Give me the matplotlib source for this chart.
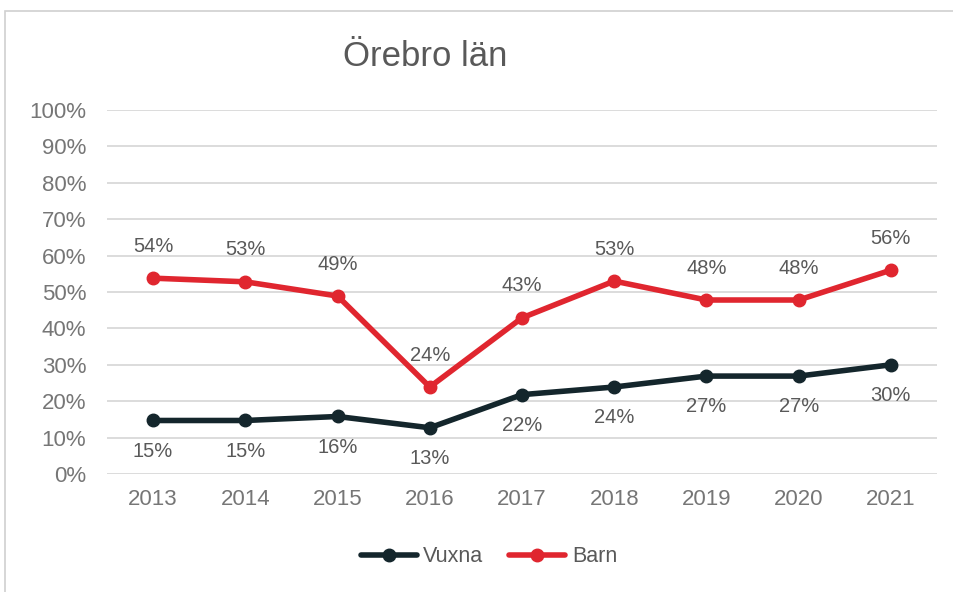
import matplotlib
matplotlib.use("Agg")
import matplotlib.pyplot as plt
from matplotlib.patches import Rectangle

years = ["2013", "2014", "2015", "2016", "2017", "2018", "2019", "2020", "2021"]
vuxna = [14.7, 14.7, 15.8, 12.7, 21.8, 23.9, 26.9, 26.9, 30.0]
barn = [53.8, 52.8, 48.9, 23.9, 42.9, 53.0, 47.8, 47.8, 56.0]
yticks = [0, 10, 20, 30, 40, 50, 60, 70, 80, 90, 100]

plt.rcParams['font.family'] = ['Liberation Sans', 'DejaVu Sans']

RED = "#E0262F"
DARK = "#14262C"
TXT = "#595959"

fig = plt.figure(figsize=(9.54, 5.92), dpi=100)
W, H = 954, 592
ax = fig.add_axes([107 / W, 1 - 474 / H, (937 - 107) / W, (474 - 110) / H])

x = list(range(len(years)))
ax.plot(x, vuxna, color=DARK, lw=4, marker='o', ms=9, label="Vuxna", zorder=3,
        solid_capstyle='round')
ax.plot(x, barn, color=RED, lw=4, marker='o', ms=9, label="Barn", zorder=3,
        solid_capstyle='round')

for xi, v in zip(x, vuxna):
    ax.annotate(f"{round(v)}%", (xi, v), xytext=(0, -22), textcoords='offset points',
                ha='center', va='center', fontsize=14.5, color=TXT)
for xi, v in zip(x, barn):
    ax.annotate(f"{round(v)}%", (xi, v), xytext=(0, 23), textcoords='offset points',
                ha='center', va='center', fontsize=14.5, color=TXT)

ax.set_xlim(-0.5, len(years) - 0.5)
ax.set_ylim(0, 100)
ax.set_yticks(yticks)
ax.set_yticklabels([f"{t}%" for t in yticks])
ax.set_xticks(x)
ax.set_xticklabels(years)
ax.grid(axis='y', color='#D9D9D9', lw=1.3)
ax.set_axisbelow(True)
for s in ax.spines.values():
    s.set_visible(False)
ax.tick_params(axis='both', length=0, labelsize=16, labelcolor='#767676')
ax.tick_params(axis='x', pad=11)
ax.tick_params(axis='y', pad=15)
for lbl in ax.get_yticklabels():
    lbl.set_horizontalalignment('right')

fig.text(425 / W, 1 - 57 / H, "Örebro län", ha='center', va='center', fontsize=25, color=TXT)

leg = fig.legend(loc='center', bbox_to_anchor=(489 / W, 1 - 557 / H), ncol=2, frameon=False,
                 fontsize=15.5, handlelength=2.6, columnspacing=1.2, handletextpad=0.3)
for t in leg.get_texts():
    t.set_color(TXT)

fig.patches.append(Rectangle((5 / W, -0.01), 1.0, 1 - 11 / H + 0.01, transform=fig.transFigure,
                             fill=False, edgecolor='#D0D0D0', lw=1.2))

fig.savefig("out.png", dpi=100)
